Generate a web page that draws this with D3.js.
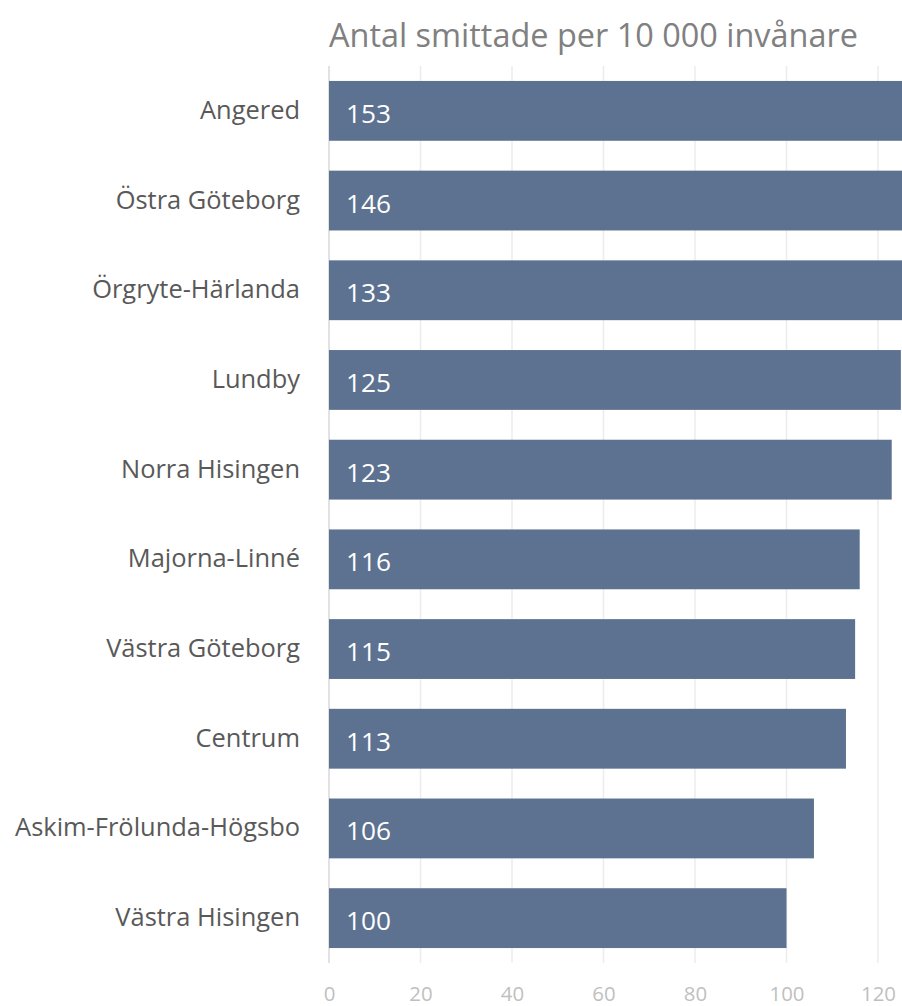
<!DOCTYPE html>
<html>
<head>
<meta charset="utf-8">
<script src="https://cdn.jsdelivr.net/npm/d3@7"></script>
<style>
  html, body { margin: 0; padding: 0; background: #fff; }
  svg { display: block; }
  text { font-family: "Open Sans", "Lato", sans-serif; }
</style>
</head>
<body>
<svg id="chart" width="902" height="1006"></svg>
<script>
const title = "Antal smittade per 10 000 invånare";
const categories = ["Angered", "Östra Göteborg", "Örgryte-Härlanda", "Lundby", "Norra Hisingen",
  "Majorna-Linné", "Västra Göteborg", "Centrum", "Askim-Frölunda-Högsbo", "Västra Hisingen"];
const values = [153, 146, 133, 125, 123, 116, 115, 113, 106, 100];
const tickValues = [0, 20, 40, 60, 80, 100, 120];

const svg = d3.select("#chart");
const W = 902, H = 1006;
const FONT = "'Open Sans', Lato, sans-serif";

const x = d3.scaleLinear().domain([0, 120]).range([329, 878]);
const y = d3.scaleBand().domain(categories).range([66, 963]).paddingInner(0.333).paddingOuter(0.1667);

function fitSize(sample, targetWidth, base) {
  const t = svg.append("text").attr("font-family", FONT).attr("font-size", base).text(sample);
  const w = t.node().getComputedTextLength();
  t.remove();
  return base * targetWidth / w;
}

const titleSize = fitSize(title, 529, 28);
const labelSize = fitSize("Askim-Frölunda-Högsbo", 285, 22);
const valueSize = fitSize("153", 45, 26);
const tickSize = fitSize("100", 35, 20);

svg.append("defs").append("clipPath").attr("id", "clip")
  .append("rect").attr("x", 0).attr("y", 0).attr("width", W).attr("height", H);

// gridlines
svg.append("g").attr("class", "grid")
  .selectAll("line").data(tickValues).join("line")
  .attr("x1", d => x(d)).attr("x2", d => x(d))
  .attr("y1", 66).attr("y2", 963)
  .attr("stroke", d => d === 0 ? "#d9d9d9" : "#ececec")
  .attr("stroke-width", 1.5);

// bars
svg.append("g").attr("clip-path", "url(#clip)")
  .selectAll("rect").data(categories).join("rect")
  .attr("x", x(0))
  .attr("y", d => y(d))
  .attr("width", (d, i) => x(values[i]) - x(0))
  .attr("height", y.bandwidth())
  .attr("fill", "#5d7290");

// value labels
svg.append("g").selectAll("text").data(categories).join("text")
  .attr("x", x(0) + 17)
  .attr("y", d => y(d) + y.bandwidth() / 2 + 12)
  .attr("fill", "#ffffff")
  .attr("font-family", FONT)
  .attr("font-size", valueSize)
  .text((d, i) => values[i]);

// category labels
const ya = svg.append("g").attr("transform", "translate(300,0)")
  .call(d3.axisLeft(y).tickSize(0).tickPadding(0));
ya.select(".domain").remove();
ya.selectAll("text")
  .attr("font-size", labelSize)
  .attr("fill", "#595959")
  .attr("font-family", FONT)
  .attr("dy", null)
  .attr("y", 8);

// x ticks
const xa = svg.append("g").attr("transform", "translate(0,1001)")
  .call(d3.axisBottom(x).tickValues(tickValues).tickSize(0).tickPadding(0));
xa.select(".domain").remove();
xa.selectAll("text")
  .attr("font-size", tickSize)
  .attr("fill", "#bfbfbf")
  .attr("font-family", FONT)
  .attr("dy", null)
  .attr("y", 0);

// title
svg.append("text")
  .attr("x", 329).attr("y", 47)
  .attr("font-size", titleSize)
  .attr("font-family", FONT)
  .attr("fill", "#808080")
  .text(title);
</script>
</body>
</html>
